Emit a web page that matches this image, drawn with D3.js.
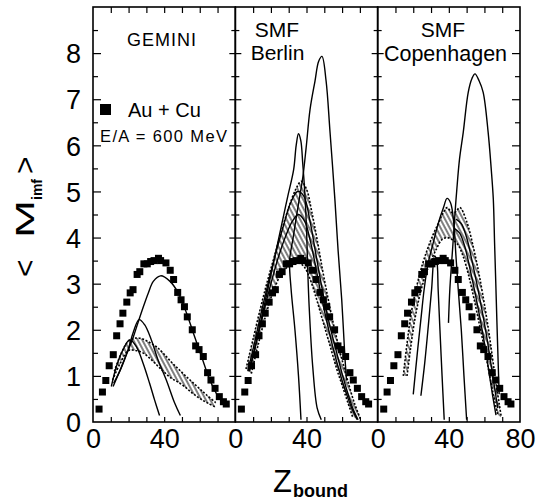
<!DOCTYPE html>
<html>
<head>
<meta charset="utf-8">
<script src="https://cdn.jsdelivr.net/npm/d3@7"></script>
<style>
    body { margin: 0; background: #fff; }
    svg { display: block; }
    text { font-family: "Liberation Sans", Arial, sans-serif; fill: #000; }
</style>
</head>
<body>
<svg id="chart" width="537" height="500"></svg>
<script>
// ---- data ----
// Au + Cu, E/A = 600 MeV, same points in every panel
const auCuZ = [3.4, 5.3, 7.2, 9.1, 11.4, 13.3, 15.2, 16.8, 19.0, 20.9, 22.5, 24.8, 26.3, 28.6, 30.5, 32.4, 34.3, 36.8,
    38.0, 41.0, 43.4, 45.3, 47.6, 49.5, 51.4, 53.0, 55.8, 57.7, 59.6, 62.0, 64.4, 66.3, 68.6, 71.0, 73.3, 74.9];
const auCuM = [0.28, 0.65, 0.90, 1.22, 1.46, 1.87, 2.13, 2.36, 2.60, 2.80, 2.87, 3.20, 3.26, 3.43, 3.43, 3.48, 3.50, 3.55,
    3.50, 3.45, 3.29, 3.09, 2.81, 2.65, 2.50, 2.28, 2.00, 1.65, 1.57, 1.42, 1.07, 0.91, 0.73, 0.55, 0.44, 0.39];

// GEMINI
const geminiHigh = [[11.6, 0.84], [15.4, 1.13], [19.1, 1.49], [22.8, 1.86], [25.5, 2.18], [28.3, 2.5], [31.1, 2.8],
    [33.9, 3.05], [38, 3.17], [43.3, 3.05], [47.9, 2.8], [52.6, 2.36], [56.4, 1.93], [61, 1.42], [65.7, 0.91],
    [70.4, 0.55], [74.2, 0.37]];
const geminiMid = [[11.3, 0.77], [16, 1.2], [19.7, 1.57], [22.5, 1.93], [25.9, 2.22], [29, 2.11], [32.8, 1.78],
    [36.5, 1.35], [41.2, 0.91], [45.9, 0.41], [49.1, 0.14]];
const geminiLow = [[10.3, 0.77], [13.1, 1.2], [16.9, 1.57], [20.6, 1.78], [24.3, 1.64], [28.1, 1.28], [31.8, 0.84],
    [34.6, 0.48], [37.4, 0.14]];
const geminiBandUpper = [[12, 1.1], [16, 1.5], [20, 1.76], [24, 1.82], [28, 1.8], [32, 1.72], [36, 1.62], [40, 1.47],
    [44, 1.3], [48, 1.15], [52, 1.0], [56, 0.86], [60, 0.72], [64, 0.58], [69, 0.42]];
const geminiBandLower = [[11, 0.91], [15, 1.25], [20, 1.55], [24, 1.55], [28, 1.5], [32, 1.38], [36, 1.23], [40, 1.08],
    [44, 0.95], [48, 0.86], [52, 0.75], [56, 0.62], [60, 0.51], [64, 0.42], [69, 0.32]];

// SMF Berlin
const berlinTall = [[36.9, 0.05], [35.5, 1.0], [33.5, 2.0], [31.3, 2.9], [30.5, 3.5], [32.5, 4.0], [34.1, 4.4],
    [36, 4.85], [37.9, 5.3], [39.8, 5.95], [42, 6.78], [44.8, 7.4], [46.8, 7.82], [48.7, 7.93], [51, 7.4],
    [53.2, 6.3], [56, 4.8], [57.8, 3.7], [59.8, 2.65], [61.6, 1.4], [62.5, 0.9]];
const berlinNarrow = [[48.3, 0.05], [46, 0.3], [43.5, 1.2], [41.5, 2.5], [40.7, 3.3], [40, 4.2], [39, 5.0], [37.9, 5.6],
    [36.8, 6.1], [35.5, 6.25], [34.2, 6.0], [32.8, 5.48], [29.5, 4.9], [26.7, 4.4], [20.6, 3.3], [15, 2.3],
    [10, 1.45], [7.5, 1.1]];
const berlinInnerA = [[8, 1.1], [12, 1.75], [16, 2.4], [20, 3.0], [24, 3.55], [28, 4.0], [32, 4.35], [35.5, 4.5],
    [39, 4.35], [42, 3.95], [45, 3.4], [48, 2.8], [51, 2.25], [54, 1.75], [57, 1.3], [60, 0.9], [63, 0.55],
    [66, 0.25], [68.5, 0.05]];
const berlinInnerB = [[7, 1.1], [11, 1.75], [15, 2.45], [19, 3.1], [23, 3.7], [27, 4.25], [31, 4.75], [35, 5.0],
    [38.5, 4.9], [42, 4.35], [45, 3.7], [48, 3.05], [51, 2.45], [54, 1.95], [57, 1.5], [60, 1.05], [63, 0.65],
    [66, 0.3], [69, 0.05]];
const berlinBandUpper = [[6, 1.15], [10, 1.8], [14, 2.45], [18, 3.05], [22, 3.6], [26, 4.15], [30, 4.65], [34, 5.05],
    [37, 5.22], [40, 5.05], [43, 4.55], [46, 3.95], [49, 3.3], [52, 2.7], [55, 2.15], [58, 1.65], [61, 1.2],
    [64, 0.78], [67, 0.4], [70.5, 0.05]];
const berlinBandLower = [[9, 1.05], [13, 1.7], [17, 2.3], [21, 2.8], [25, 3.15], [29, 3.35], [33, 3.45], [36, 3.45],
    [39, 3.35], [42, 3.1], [45, 2.75], [48, 2.35], [51, 1.95], [54, 1.55], [57, 1.15], [60, 0.8], [63, 0.45],
    [66, 0.1]];

// SMF Copenhagen
const copenTall = [[39.8, 2.15], [40.6, 2.9], [42.2, 3.8], [43.6, 4.6], [44.4, 5.0], [46, 5.7], [48.1, 6.28],
    [50.9, 7.15], [53, 7.45], [54.7, 7.55], [57, 7.4], [59.3, 7.15], [62.1, 6.28], [63.8, 5.5], [65, 4.83],
    [65.7, 3.9], [66.4, 3.0], [67, 2.2], [67.8, 1.2], [68.3, 0.6]];
const copenNarrow = [[50, 0.05], [48.5, 1.0], [47, 2.0], [45.3, 2.87], [44, 3.6], [42.8, 4.3], [41, 4.75], [39, 4.85],
    [37, 4.65], [34, 4.3], [31, 3.85], [28.4, 3.45], [26.2, 2.9], [24.5, 2.3], [22.3, 1.5], [20, 0.6]];
const copenMid = [[37.4, 0.05], [36.2, 1.0], [35, 2.0], [34, 2.87], [33.2, 3.5], [32, 3.6], [30.3, 2.87], [28.5, 2.1],
    [26.5, 1.3], [24.3, 0.57]];
const copenInnerA = [[44, 4.4], [47, 4.3], [50, 4.0], [53, 3.5], [56, 2.95], [59, 2.35], [61.5, 1.8], [63.5, 1.3],
    [65.5, 0.8], [67.5, 0.3]];
const copenInnerB = [[43, 4.2], [46, 4.1], [49, 3.8], [52, 3.3], [55, 2.75], [58, 2.15], [60.5, 1.6], [62.5, 1.1],
    [64.5, 0.6], [66.5, 0.15]];
const copenBandUpper = [[14.4, 1.0], [16.5, 1.7], [19, 2.4], [22, 2.95], [25, 3.4], [28, 3.75], [31, 4.05], [34, 4.3],
    [37, 4.55], [39, 4.65], [41.5, 4.55], [43.5, 4.55], [46.2, 4.65], [50, 4.35], [54, 3.75], [57, 3.2], [60, 2.55],
    [62.5, 1.95], [64.5, 1.4], [66.5, 0.85], [68.5, 0.35], [69.5, 0.1]];
const copenBandLower = [[16.5, 1.0], [18.5, 1.6], [21, 2.25], [24, 2.8], [27, 3.2], [30, 3.5], [33, 3.75], [36, 3.95],
    [39, 4.0], [42, 3.95], [45, 3.85], [48, 3.6], [51, 3.2], [54, 2.7], [57, 2.15], [60, 1.6], [62.5, 1.1],
    [65, 0.6], [67.5, 0.15]];

const panelTitles = [["GEMINI"], ["SMF", "Berlin"], ["SMF", "Copenhagen"]];
const zTickLabels = [[0, 40], [0, 40], [0, 40, 80]];
const mTickLabels = [0, 1, 2, 3, 4, 5, 6, 7, 8];
const legendLabels = ["Au + Cu", "E/A = 600 MeV"];

const panelSolid = [[geminiHigh, geminiMid, geminiLow], [berlinTall, berlinNarrow, berlinInnerA, berlinInnerB],
    [copenTall, copenNarrow, copenMid, copenInnerA, copenInnerB]];
const panelBands = [[geminiBandUpper, geminiBandLower], [berlinBandUpper, berlinBandLower],
    [copenBandUpper, copenBandLower]];

// ---- chart ----
let MultChart = function () {
    this.svg = d3.select("#chart")
    this.layout = {
        left: 93,
        right: 520,
        top: 7,
        bottom: 422,
        frameWidth: 1.6,
        lineWidth: 1.4,
        dash: "2,1.7",
        square: 7,
        tickFont: 27,
    }
    this.titleLayout = [
        [{ x: 162, y: 46, size: 18, spacing: 1 }],
        [{ x: 277, y: 37, size: 21, spacing: 0 }, { x: 277.5, y: 60, size: 21, spacing: 0 }],
        [{ x: 443, y: 37, size: 21, spacing: 0 }, { x: 445.5, y: 61, size: 21.5, spacing: 0 }],
    ]
    const w = (this.layout.right - this.layout.left) / 3
    this.x = d3.range(3).map(i => d3.scaleLinear()
        .domain([0, 80])
        .range([this.layout.left + i * w, this.layout.left + (i + 1) * w]))
    this.y = d3.scaleLinear().domain([0, 9]).range([this.layout.bottom, this.layout.top])

    this.addDefs()
    for (let i = 0; i < 3; i++) this.drawPanel(i)
    this.drawAxes()
    this.drawText()
}

MultChart.prototype.addDefs = function () {
    const p = this.svg.append("defs").append("pattern")
        .attr("id", "hatch")
        .attr("patternUnits", "userSpaceOnUse")
        .attr("width", 4)
        .attr("height", 10)
        .attr("patternTransform", "rotate(-28)")
    p.append("line")
        .attr("x1", 2).attr("y1", 0).attr("x2", 2).attr("y2", 10)
        .attr("stroke", "#000").attr("stroke-width", 1)
}

MultChart.prototype.drawPanel = function (i) {
    const x = this.x[i], y = this.y, L = this.layout
    const line = d3.line().x(d => x(d[0])).y(d => y(d[1])).curve(d3.curveCatmullRom)
    const g = this.svg.append("g").attr("class", "panel-" + i)

    const [upper, lower] = panelBands[i]
    const band = line(upper) + "L" + line(lower.slice().reverse()).slice(1) + "Z"
    g.append("path").attr("d", band).attr("fill", "url(#hatch)").attr("stroke", "none")
    g.selectAll(".edge").data([upper, lower]).join("path")
        .attr("class", "edge")
        .attr("d", line)
        .attr("fill", "none")
        .attr("stroke", "#000")
        .attr("stroke-width", 1.6)
        .attr("stroke-dasharray", L.dash)

    g.selectAll(".model").data(panelSolid[i]).join("path")
        .attr("class", "model")
        .attr("d", line)
        .attr("fill", "none")
        .attr("stroke", "#000")
        .attr("stroke-width", L.lineWidth)

    g.selectAll(".pt").data(auCuZ).join("rect")
        .attr("class", "pt")
        .attr("x", (d, k) => x(d) - L.square / 2)
        .attr("y", (d, k) => y(auCuM[k]) - L.square / 2)
        .attr("width", L.square)
        .attr("height", L.square)
        .attr("fill", "#000")

    g.append("rect")
        .attr("x", x(0)).attr("y", y(9))
        .attr("width", x(80) - x(0)).attr("height", y(0) - y(9))
        .attr("fill", "none").attr("stroke", "#000").attr("stroke-width", L.frameWidth)
}

MultChart.prototype.tickAxis = function (axis, transform) {
    const g = this.svg.append("g").attr("transform", transform).call(axis)
    g.select(".domain").remove()
    g.selectAll(".tick line").attr("stroke", "#000").attr("stroke-width", 1.2)
    return g
}

MultChart.prototype.drawAxes = function () {
    const y = this.y, L = this.layout
    const major = d3.range(1, 9)
    const minor = d3.range(0.5, 9, 1)
    const noText = ""

    // left frame, inward ticks
    this.tickAxis(d3.axisRight(y).tickValues(major).tickSize(8).tickFormat(() => noText), `translate(${L.left},0)`)
    this.tickAxis(d3.axisRight(y).tickValues(minor).tickSize(5).tickFormat(() => noText), `translate(${L.left},0)`)
    // dividers, ticks both sides
    for (let i = 1; i < 3; i++) {
        const xd = this.x[i](0)
        for (let side of [d3.axisLeft, d3.axisRight]) {
            this.tickAxis(side(y).tickValues(major).tickSize(6).tickFormat(() => noText), `translate(${xd},0)`)
            this.tickAxis(side(y).tickValues(minor).tickSize(4).tickFormat(() => noText), `translate(${xd},0)`)
        }
    }
    // right frame
    this.tickAxis(d3.axisLeft(y).tickValues(major).tickSize(8).tickFormat(() => noText), `translate(${L.right},0)`)
    this.tickAxis(d3.axisLeft(y).tickValues(minor).tickSize(5).tickFormat(() => noText), `translate(${L.right},0)`)

    // y labels
    const yl = this.tickAxis(d3.axisLeft(y).tickValues(mTickLabels).tickSize(0).tickPadding(12).tickFormat(d3.format("d")),
        `translate(${L.left},0)`)
    yl.selectAll("text").attr("font-size", L.tickFont).attr("dy", "0.36em")
        .style("font-family", "Liberation Sans, Arial, sans-serif")

    // x ticks top/bottom and labels
    for (let i = 0; i < 3; i++) {
        const x = this.x[i]
        const inner = d3.range(10, 80, 10)
        this.tickAxis(d3.axisTop(x).tickValues(inner).tickSize(5).tickFormat(() => noText), `translate(0,${L.bottom})`)
        this.tickAxis(d3.axisBottom(x).tickValues(inner).tickSize(6).tickFormat(() => noText), `translate(0,${L.top})`)
        const xl = this.tickAxis(d3.axisBottom(x).tickValues(zTickLabels[i]).tickSize(0).tickPadding(7)
            .tickFormat(d3.format("d")), `translate(0,${L.bottom})`)
        xl.selectAll("text").attr("font-size", L.tickFont).attr("dy", "0.71em")
            .style("font-family", "Liberation Sans, Arial, sans-serif")
    }
}

MultChart.prototype.drawText = function () {
    const svg = this.svg

    panelTitles.forEach((lines, i) => {
        lines.forEach((t, k) => {
            const pos = this.titleLayout[i][k]
            svg.append("text")
                .attr("x", pos.x).attr("y", pos.y)
                .attr("text-anchor", "middle")
                .attr("font-size", pos.size)
                .attr("letter-spacing", pos.spacing)
                .text(t)
        })
    })

    // legend
    svg.append("rect").attr("x", 100).attr("y", 104).attr("width", 11).attr("height", 11).attr("fill", "#000")
    svg.append("text").attr("x", 128).attr("y", 117).attr("font-size", 20).text(legendLabels[0])
    svg.append("text").attr("x", 100).attr("y", 142).attr("font-size", 16.5).attr("textLength", 127).text(legendLabels[1])

    // y title  < M_imf >
    const yt = svg.append("g").attr("transform", "translate(34,0) rotate(-90)")
    yt.append("text").attr("x", -277).attr("y", 1).attr("font-size", 30).text("<")
    yt.append("text").attr("x", -238).attr("y", 0).attr("font-size", 26)
        .attr("textLength", 38).attr("lengthAdjust", "spacingAndGlyphs").text("M")
    yt.append("text").attr("x", -200).attr("y", 8).attr("font-size", 14).attr("font-weight", "bold").text("imf")
    yt.append("text").attr("x", -174).attr("y", 1).attr("font-size", 30).text(">")

    // x title  Z_bound
    svg.append("text").attr("x", 273).attr("y", 492).attr("font-size", 31).text("Z")
    svg.append("text").attr("x", 293).attr("y", 497).attr("font-size", 18).attr("font-weight", "bold").text("bound")
}

new MultChart()
</script>
</body>
</html>
